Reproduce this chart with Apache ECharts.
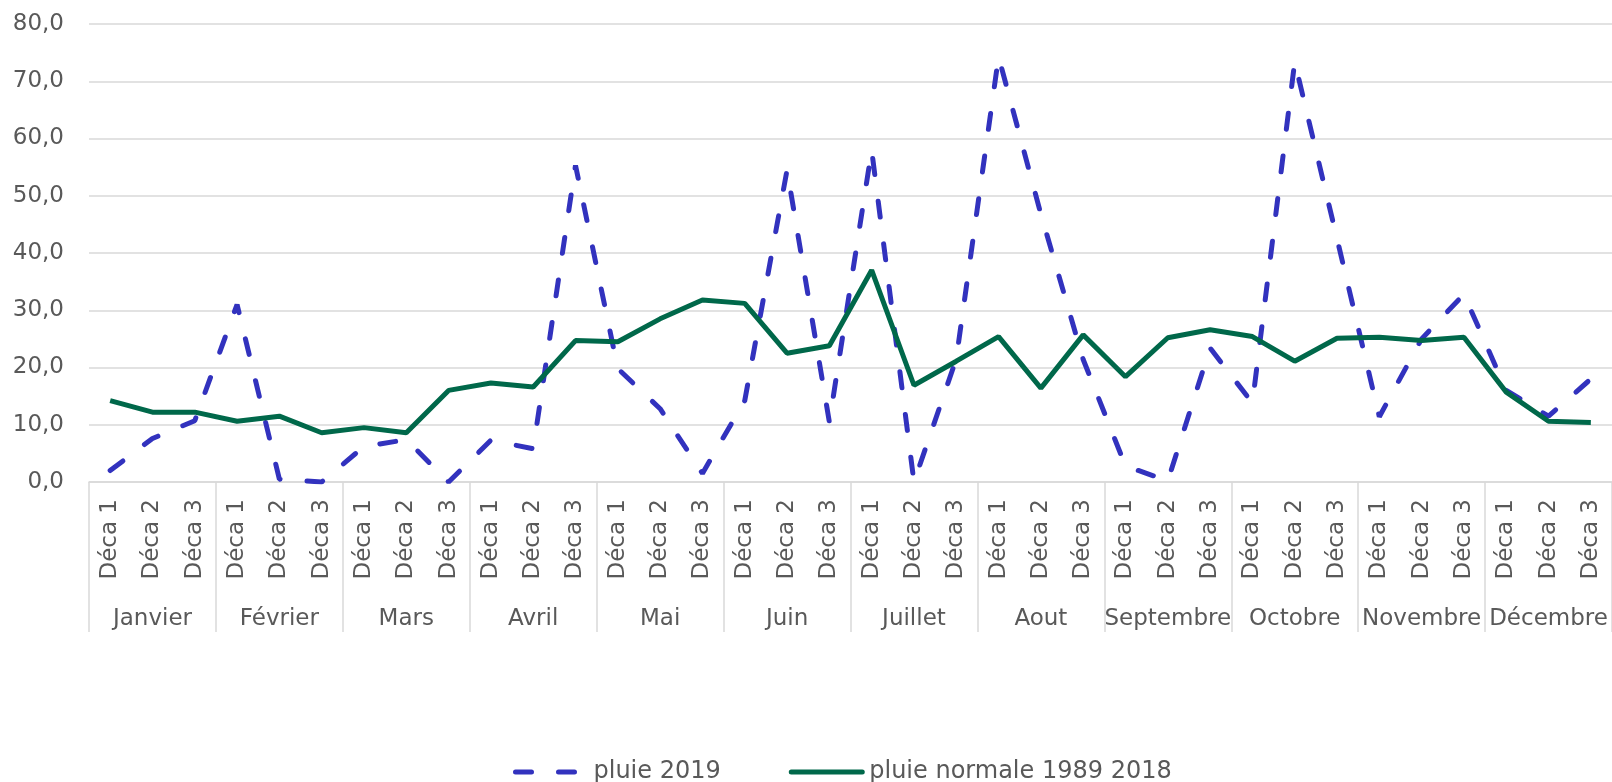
<!DOCTYPE html>
<html>
<head>
<meta charset="utf-8">
<title>Pluie 2019</title>
<script src="https://cdn.jsdelivr.net/npm/echarts@6/dist/echarts.min.js"></script>
<style>
  html, body { margin: 0; padding: 0; background: #fff; }
  #chart { width: 1612px; height: 782px; }
</style>
</head>
<body>
<div id="chart"></div>
<script>
// mois et décades
var months = ['Janvier', 'Février', 'Mars', 'Avril', 'Mai', 'Juin', 'Juillet', 'Aout', 'Septembre', 'Octobre', 'Novembre', 'Décembre'];
var decades = ['Déca 1', 'Déca 2', 'Déca 3'];

// pluie 2019 (mm)
var pluie2019 = [2.0, 7.6, 10.7, 31.0, 0.5, 0.0, 6.2, 7.4, 0.0, 7.3, 5.8, 55.3,
                 19.8, 12.8, 1.5, 14.2, 54.5, 10.5, 58.0, 0.0, 21.5, 74.3, 46.8, 21.4,
                 2.8, 0.2, 23.4, 13.8, 73.4, 42.5, 11.4, 25.0, 32.8, 16.0, 11.5, 18.0];

// pluie normale 1989 2018 (mm)
var pluieNormale = [14.2, 12.2, 12.2, 10.6, 11.5, 8.6, 9.5, 8.6, 16.0, 17.3, 16.6, 24.7,
                    24.5, 28.5, 31.8, 31.2, 22.5, 23.8, 37.0, 16.9, 21.1, 25.4, 16.4, 25.7,
                    18.4, 25.2, 26.6, 25.4, 21.1, 25.1, 25.3, 24.7, 25.3, 15.7, 10.6, 10.4];

var categories = [];
months.forEach(function () {
  decades.forEach(function (d) { categories.push(d); });
});

var txt = '#595959';
var gris = '#d9d9d9';
var font = 'DejaVu Sans';

var myChart = echarts.init(document.getElementById('chart'));

var option = {
  animation: false,
  textStyle: { fontFamily: font },
  grid: {
    left: 89,
    right: 0,
    top: 24,
    bottom: 300
  },
  legend: {
    left: 508,
    top: 755,
    itemWidth: 71,
    itemHeight: 14,
    itemGap: 68,
    itemStyle: { opacity: 0 },
    lineStyle: { width: 5, cap: 'round' },
    textStyle: { color: txt, fontSize: 24, fontFamily: font, padding: [0, 0, 0, 2] },
    data: ['pluie 2019', 'pluie normale 1989 2018']
  },
  xAxis: [
    {
      type: 'category',
      data: categories,
      position: 'bottom',
      axisLine: { lineStyle: { color: gris, width: 1.5 } },
      axisTick: { show: false },
      axisLabel: {
        interval: 0,
        rotate: 90,
        margin: 17,
        color: txt,
        fontSize: 23,
        fontFamily: font
      }
    },
    {
      type: 'category',
      data: months,
      position: 'bottom',
      offset: 0,
      axisLine: { show: false },
      axisTick: {
        show: true,
        interval: 0,
        length: 150,
        lineStyle: { color: gris, width: 1.5 }
      },
      axisLabel: {
        interval: 0,
        margin: 126,
        color: txt,
        fontSize: 23,
        fontFamily: font
      }
    }
  ],
  yAxis: {
    type: 'value',
    min: 0,
    max: 80,
    interval: 10,
    axisLine: { show: false },
    axisTick: { show: false },
    splitLine: { lineStyle: { color: gris, width: 1.5 } },
    axisLabel: {
      margin: 25,
      color: txt,
      fontSize: 23,
      fontFamily: font,
      formatter: function (v) { return v.toFixed(1).replace('.', ','); }
    }
  },
  series: [
    {
      name: 'pluie 2019',
      type: 'line',
      xAxisIndex: 0,
      data: pluie2019,
      symbol: 'none',
      itemStyle: { color: '#3232be' },
      lineStyle: { color: '#3232be', width: 5, type: [16, 27], cap: 'round' }
    },
    {
      name: 'pluie normale 1989 2018',
      type: 'line',
      xAxisIndex: 0,
      data: pluieNormale,
      symbol: 'none',
      itemStyle: { color: '#00684a' },
      lineStyle: { color: '#00684a', width: 5 }
    }
  ]
};

myChart.setOption(option);
</script>
</body>
</html>
